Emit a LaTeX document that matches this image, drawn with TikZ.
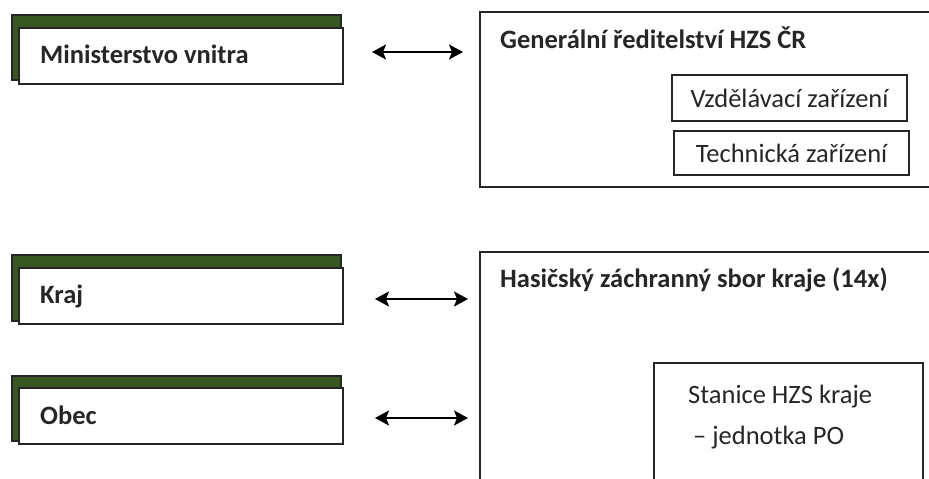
\documentclass[tikz,border=0pt]{standalone}
\usepackage{fontspec}
\setmainfont{Carlito}
\usetikzlibrary{arrows.meta}
\definecolor{shadowgreen}{RGB}{56,87,35}
\begin{document}
\begin{tikzpicture}[x=1pt,y=-1pt,
  frame/.style={draw=black!85, line width=1.3pt, fill=white, inner sep=0pt, outer sep=0pt, anchor=north west},
  shadow/.style={draw=black!85, line width=1.3pt, fill=shadowgreen},
  boldlbl/.style={inner sep=0pt, anchor=base west, font=\bfseries\fontsize{26.5}{31}\selectfont, text=black!85},
  lbl/.style={inner sep=0pt, font=\fontsize{26.5}{31}\selectfont, text=black!85},
  tip/.style={Stealth[length=14pt,width=15pt,inset=3pt,line width=0.5pt]},
  arr/.style={line width=2pt, {Stealth[length=14pt,width=15pt,inset=3pt]}-{Stealth[length=14pt,width=15pt,inset=3pt]}}
]
\useasboundingbox (0,0) rectangle (929,479);

% left boxes with green shadow
\filldraw[shadow] (12,15) rectangle (341,80);
\node[frame, minimum width=324pt, minimum height=56pt] (mv) at (19,28) {};
\node[boldlbl] (mvt) at (40,63) {Ministerstvo vnitra};

\filldraw[shadow] (12,255) rectangle (341,321);
\node[frame, minimum width=324pt, minimum height=56pt] (kraj) at (19,268) {};
\node[boldlbl] (krajt) at (40,303) {Kraj};

\filldraw[shadow] (12,376) rectangle (341,441);
\node[frame, minimum width=324pt, minimum height=56pt] (obec) at (19,388) {};
\node[boldlbl] (obect) at (40,424) {Obec};

% right boxes
\node[frame, minimum width=470pt, minimum height=175pt] (gr) at (480,12) {};
\node[boldlbl] (grt) at (500,48) {Generální ředitelství HZS ČR};
\node[frame, minimum width=235pt, minimum height=46pt] (vzd) at (672,75) {};
\node[lbl] (vzdt) at (vzd.center) {Vzdělávací zařízení};
\node[frame, minimum width=235pt, minimum height=44pt] (tech) at (674,131) {};
\node[lbl] (techt) at (tech.center) {Technická zařízení};

\node[frame, minimum width=470pt, minimum height=250pt] (hzs) at (480,252) {};
\node[boldlbl] (hzst) at (500,287) {Hasičský záchranný sbor kraje (14x)};
\node[frame, minimum width=269pt, minimum height=140pt] (st) at (654,363) {};
\node[lbl, anchor=base west] (st1) at (688,403) {Stanice HZS kraje};
\node[lbl, anchor=base west] (st2) at (693,444) {– jednotka PO};

% arrows
\draw[arr, shorten <=29pt, shorten >=17pt] ([yshift=4pt]mv.east) -- ([yshift=4pt]mv.east -| gr.west);
\draw[arr, shorten <=32pt, shorten >=12pt] ([yshift=-3pt]kraj.east) -- ([yshift=-3pt]kraj.east -| hzs.west);
\draw[arr, shorten <=32pt, shorten >=12pt] ([yshift=-2pt]obec.east) -- ([yshift=-2pt]obec.east -| hzs.west);
\end{tikzpicture}
\end{document}
